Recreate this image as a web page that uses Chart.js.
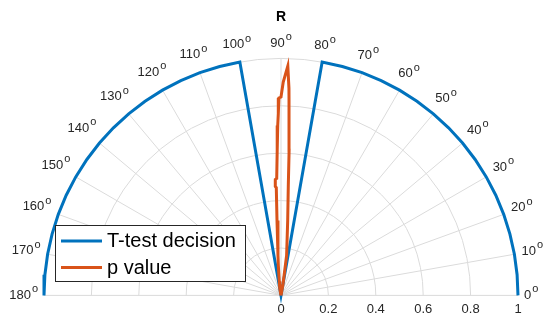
<!DOCTYPE html>
<html>
<head>
<meta charset="utf-8">
<script src="https://cdn.jsdelivr.net/npm/chart.js@4/dist/chart.umd.min.js"></script>
<style>
  html, body { margin: 0; padding: 0; background: #fff; }
  #wrap { width: 545px; height: 323px; }
</style>
</head>
<body>
<div id="wrap"><canvas id="polar" width="545" height="323"></canvas></div>
<script>
// ── Data (angles in degrees, radius 0..1) ──────────
const thetaTicks = [0, 10, 20, 30, 40, 50, 60, 70, 80, 90, 100, 110, 120, 130, 140, 150, 160, 170, 180];
const rTicks = [0, 0.2, 0.4, 0.6, 0.8, 1];

const decisionTheta = [0, 5, 10, 15, 20, 25, 30, 35, 40, 45, 50, 55, 60, 65, 70, 75, 80,
  85, 90, 95,
  100, 105, 110, 115, 120, 125, 130, 135, 140, 145, 150, 155, 160, 165, 170, 175, 180];
const decisionValue = [1, 1, 1, 1, 1, 1, 1, 1, 1, 1, 1, 1, 1, 1, 1, 1, 1,
  0, 0, 0,
  1, 1, 1, 1, 1, 1, 1, 1, 1, 1, 1, 1, 1, 1, 1, 1, 1];

const pTheta = [79, 80, 82, 84.9, 86.2, 86.8, 87.3, 87.65, 87.8, 88.3, 89.4, 90.0, 90.6, 90.85,
  91.1, 91.5, 92.1, 92.8, 93.0, 92.5, 93.05, 94.3, 95.1, 97, 100, 101];
const pValue = [0, 0.05, 0.17, 0.318, 0.465, 0.613, 0.718, 0.825, 0.874, 0.968, 0.90, 0.837, 0.833, 0.767,
  0.717, 0.612, 0.494, 0.49, 0.46, 0.455, 0.317, 0.17, 0.127, 0.06, 0.03, 0];

const BLUE = '#0072BD';
const ORANGE = '#D95319';
const TEXT = '#262626';
const GRID = '#dbdbdb';
const FONT = '"Liberation Sans", Arial, sans-serif';

function toXY(thetas, rs) {
  return thetas.map((t, i) => {
    const a = t * Math.PI / 180;
    return { x: rs[i] * Math.cos(a), y: rs[i] * Math.sin(a) };
  });
}

// ── Polar grid (semicircle) + angle labels ──
const polarGrid = {
  id: 'polarGrid',
  beforeDatasetsDraw(chart) {
    const { ctx, scales: { x, y } } = chart;
    const cx = x.getPixelForValue(0), cy = y.getPixelForValue(0);
    const rx = x.getPixelForValue(1) - cx, ry = cy - y.getPixelForValue(1);
    ctx.save();
    ctx.strokeStyle = GRID;
    ctx.lineWidth = 1;
    rTicks.filter(r => r > 0).forEach(r => {
      ctx.beginPath();
      ctx.ellipse(cx, cy, r * rx, r * ry, 0, Math.PI, 2 * Math.PI);
      ctx.stroke();
    });
    thetaTicks.forEach(t => {
      const a = t * Math.PI / 180;
      ctx.beginPath();
      ctx.moveTo(cx, cy);
      ctx.lineTo(cx + rx * Math.cos(a), cy - ry * Math.sin(a));
      ctx.stroke();
    });
    ctx.restore();
  },
  afterDraw(chart) {
    const { ctx, scales: { x, y } } = chart;
    const cx = x.getPixelForValue(0), cy = y.getPixelForValue(0);
    const R = x.getPixelForValue(1) - cx;
    ctx.save();
    ctx.fillStyle = TEXT;
    ctx.textBaseline = 'middle';
    ctx.textAlign = 'left';
    thetaTicks.forEach(t => {
      const a = t * Math.PI / 180;
      const txt = String(t);
      ctx.font = `13px ${FONT}`;
      const wD = ctx.measureText(txt).width;
      ctx.font = `11px ${FONT}`;
      const wO = ctx.measureText('o').width;
      const w = wD + wO + 1;
      const dist = R + 6 + Math.abs(Math.cos(a)) * w / 2 + Math.abs(Math.sin(a)) * 9;
      const px = cx + dist * Math.cos(a) - w / 2;
      const py = cy - dist * Math.sin(a);
      ctx.font = `13px ${FONT}`;
      ctx.fillText(txt, px, py);
      ctx.font = `11px ${FONT}`;
      ctx.fillText('o', px + wD + 1, py - 6);
    });
    ctx.restore();
  }
};

// ── Legend box ─────────────────────────────
const boxLegend = {
  id: 'boxLegend',
  afterDraw(chart) {
    const { ctx } = chart;
    const items = chart.data.datasets.map(d => ({ label: d.label, color: d.borderColor }));
    ctx.save();
    ctx.fillStyle = '#fff';
    ctx.strokeStyle = TEXT;
    ctx.lineWidth = 1;
    ctx.fillRect(55.5, 225.5, 190, 56);
    ctx.strokeRect(55.5, 225.5, 190, 56);
    ctx.font = `20px ${FONT}`;
    ctx.textBaseline = 'middle';
    ctx.textAlign = 'left';
    items.forEach((it, i) => {
      const yy = 241 + i * 26.5;
      ctx.strokeStyle = it.color;
      ctx.lineWidth = 3;
      ctx.beginPath();
      ctx.moveTo(61, yy);
      ctx.lineTo(102, yy);
      ctx.stroke();
      ctx.fillStyle = '#000';
      ctx.fillText(it.label, 107, yy + 0.5);
    });
    ctx.restore();
  }
};

new Chart(document.getElementById('polar'), {
  type: 'scatter',
  data: {
    datasets: [
      {
        label: 'T-test decision',
        data: toXY(decisionTheta, decisionValue),
        borderColor: BLUE,
        borderWidth: 3,
        showLine: true,
        pointRadius: 0,
        clip: false,
        order: 1,
      },
      {
        label: 'p value',
        data: toXY(pTheta, pValue),
        borderColor: ORANGE,
        borderWidth: 3,
        showLine: true,
        pointRadius: 0,
        clip: false,
        order: 0,
      },
    ],
  },
  options: {
    responsive: false,
    animation: false,
    events: [],
    layout: { padding: { left: 44, right: 27, top: 0, bottom: 0 } },
    scales: {
      x: {
        type: 'linear',
        min: -1,
        max: 1,
        afterBuildTicks: s => { s.ticks = rTicks.map(v => ({ value: v })); },
        grid: { display: false, drawTicks: false },
        border: { display: false },
        ticks: {
          padding: 6,
          maxRotation: 0,
          autoSkip: false,
          color: TEXT,
          font: { family: FONT, size: 13 },
          callback: v => String(Number(v.toFixed(1))),
        },
      },
      y: { type: 'linear', min: 0, max: 1, display: false },
    },
    plugins: {
      legend: { display: false },
      tooltip: { enabled: false },
      title: {
        display: true,
        text: 'R',
        color: '#000',
        font: { family: FONT, size: 14, weight: 'bold' },
        padding: { top: 9, bottom: 32.6 },
      },
    },
  },
  plugins: [polarGrid, boxLegend],
});
</script>
</body>
</html>
